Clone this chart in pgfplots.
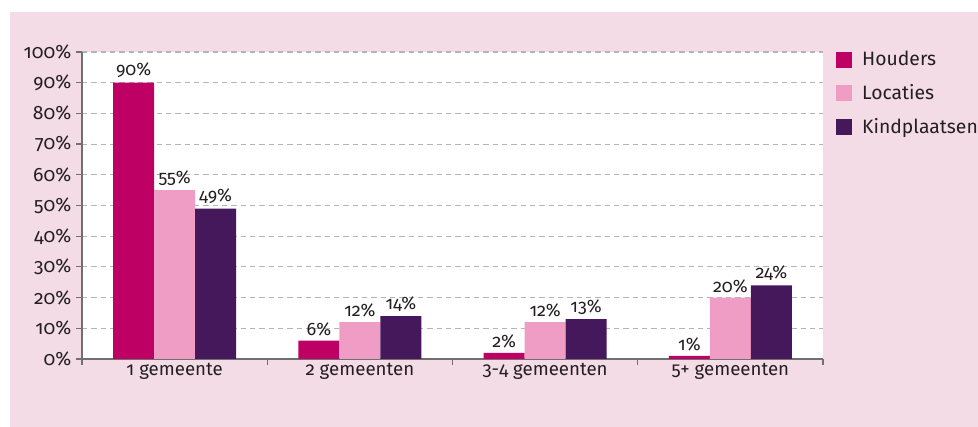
\documentclass[border=0pt]{standalone}
\usepackage{fontspec}
\setmainfont{Fira Sans}[RawFeature=+onum]
\usepackage{pgfplots}
\pgfplotsset{compat=1.18}
\definecolor{bg}{HTML}{F4DCE6}
\definecolor{houders}{HTML}{BE0064}
\definecolor{locaties}{HTML}{F09DC5}
\definecolor{kind}{HTML}{45185C}
\definecolor{axisgray}{HTML}{707070}
\definecolor{gridgray}{HTML}{B4B4B4}
\definecolor{txt}{HTML}{231F20}
\begin{document}
\begin{tikzpicture}
\useasboundingbox (-61.5pt,-51pt) rectangle (672pt,269.25pt);
\fill[bg] (-54pt,-51pt) rectangle (672pt,260.25pt);
\begin{axis}[
  at={(0,0)}, anchor=south west,
  scale only axis, width=555.75pt, height=230.25pt,
  xmin=-0.5, xmax=3.5, ymin=0, ymax=100,
  ybar=0pt, bar width=0.2213,
  axis background/.style={fill=white},
  axis x line*=bottom, axis y line*=left,
  axis line style={draw=axisgray, line width=0.9pt},
  ytick={0,10,...,100},
  yticklabel={\pgfmathprintnumber{\tick}\%},
  ymajorgrids,
  grid style={gridgray, dash pattern=on 4pt off 3pt, line width=0.8pt},
  tick align=outside, major tick length=4.5pt,
  tick style={axisgray, line width=0.9pt},
  xtick={-0.5,0.5,1.5,2.5,3.5}, xticklabels={},
  extra x ticks={0,1,2,3},
  extra x tick labels={1 gemeente, 2 gemeenten, 3-4 gemeenten, 5+ gemeenten},
  extra x tick style={major tick length=0pt, grid=none},
  /pgf/number format/assume math mode=true,
  yticklabel style={font=\fontsize{14.5}{16}\selectfont, text=txt},
  xticklabel style={font=\fontsize{14}{16}\selectfont, text=txt},
  nodes near coords={\pgfmathprintnumber{\pgfplotspointmeta}\%},
  every node near coord/.append style={font=\fontsize{13.5}{15}\selectfont, text=txt},
  legend image code/.code={\fill[#1] (0pt,-6pt) rectangle (12pt,6pt);},
  legend style={at={(1.0175,1.003)}, anchor=north west, draw=none, fill=none,
    inner sep=0pt, row sep=12.5pt, column sep=7.5pt,
    font=\fontsize{14.5}{16}\selectfont, nodes={inner sep=0pt, text=txt}},
  legend cell align=left,
  clip=false,
]
\addplot[fill=houders, draw=none] coordinates {(0,90) (1,6) (2,2) (3,1)};
\addplot[fill=locaties, draw=none] coordinates {(0,55) (1,12) (2,12) (3,20)};
\addplot[fill=kind, draw=none] coordinates {(0,49) (1,14) (2,13) (3,24)};
\legend{Houders,Locaties,Kindplaatsen}
\end{axis}
\end{tikzpicture}
\end{document}
